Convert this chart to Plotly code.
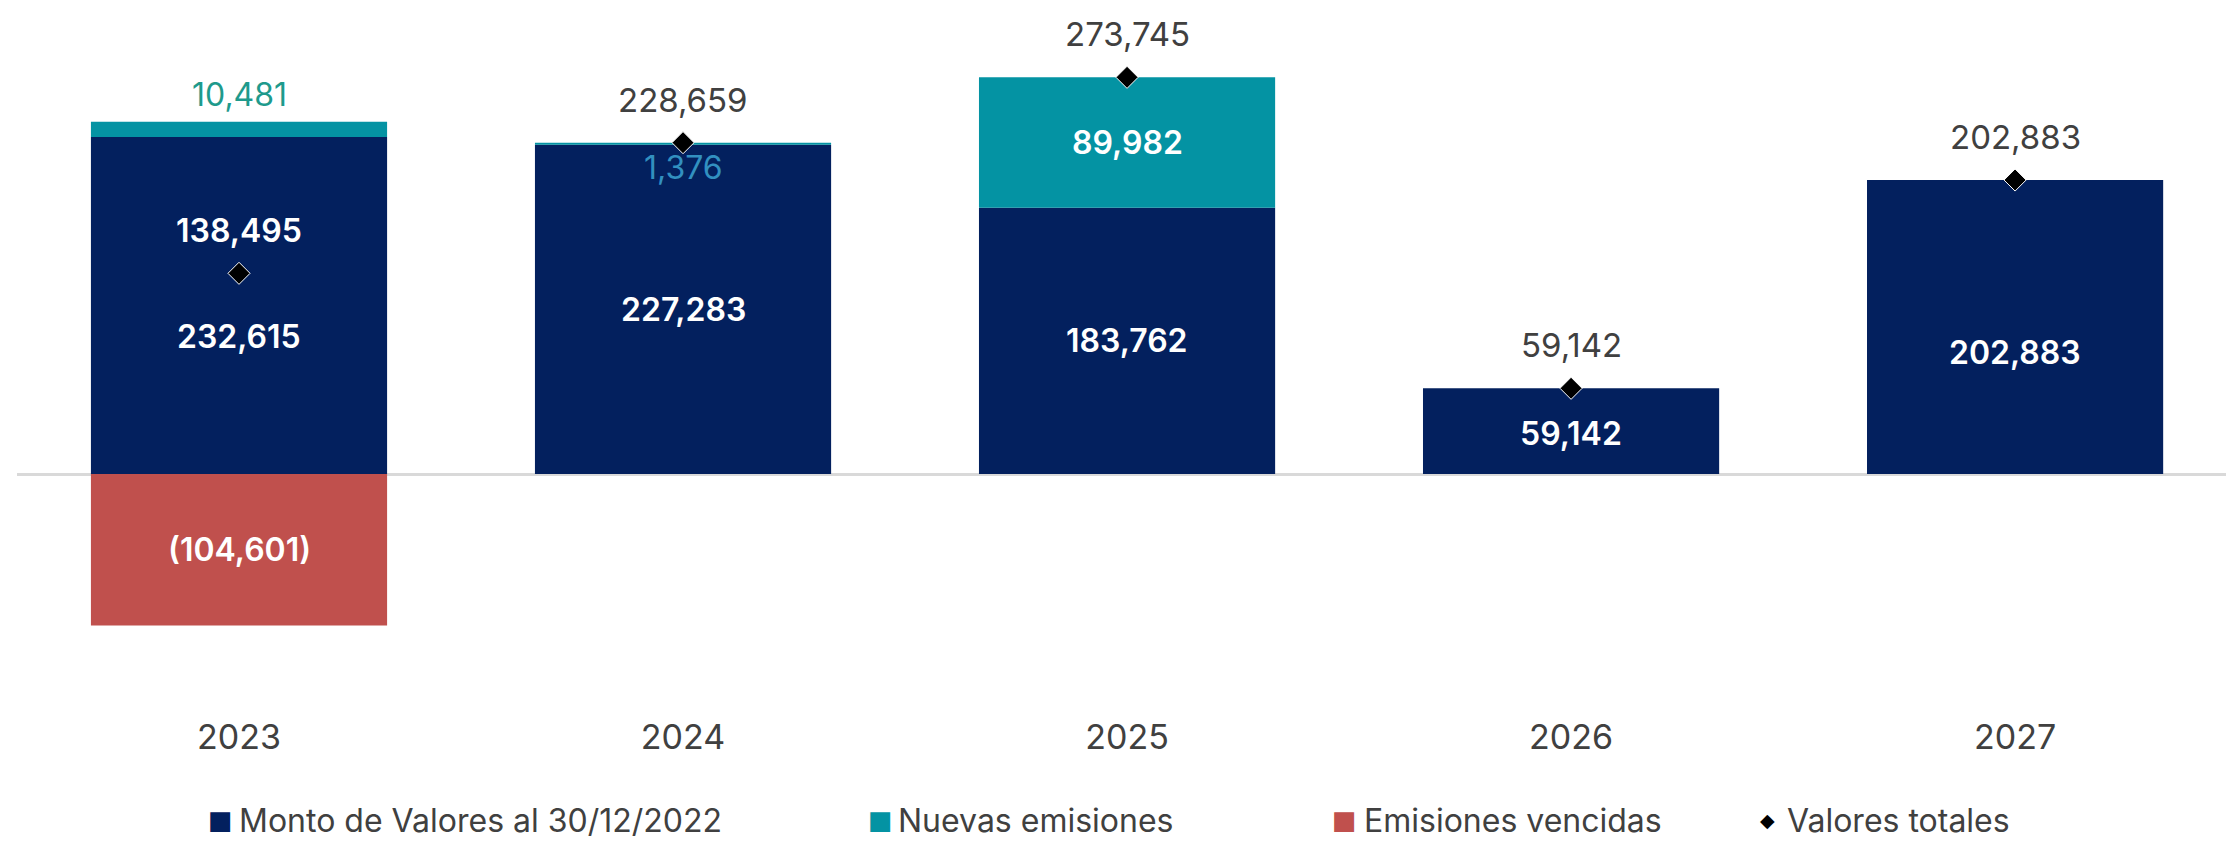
import plotly.graph_objects as go

# ---------------- data ----------------
categories = ["2023", "2024", "2025", "2026", "2027"]
monto_valores = [232615, 227283, 183762, 59142, 202883]
nuevas_emisiones = [10481, 1376, 89982, 0, 0]
emisiones_vencidas = [-104601, 0, 0, 0, 0]
valores_totales = [138495, 228659, 273745, 59142, 202883]
legend_names = ["Monto de Valores al 30/12/2022", "Nuevas emisiones",
                "Emisiones vencidas", "Valores totales"]

# ---------------- styles ----------------
NAVY = "#03205E"
TEAL = "#0493A3"
RED = "#C0504D"
GRAY = "#404040"
FONT = "Inter, Lato, Open Sans, sans-serif"
LBL = 32      # white in-bar labels
TOT = 33      # total labels

def fmt(v):
    s = f"{abs(v):,}"
    return f"({s})" if v < 0 else s

fig = go.Figure()
fig.add_trace(go.Bar(x=categories, y=monto_valores, name=legend_names[0],
                     marker=dict(color=NAVY, line=dict(width=0))))
fig.add_trace(go.Bar(x=categories, y=nuevas_emisiones, name=legend_names[1],
                     marker=dict(color=TEAL, line=dict(width=0))))
fig.add_trace(go.Bar(x=categories, y=emisiones_vencidas, name=legend_names[2],
                     marker=dict(color=RED, line=dict(width=0))))
fig.add_trace(go.Scatter(x=categories, y=valores_totales, name=legend_names[3],
                         mode="markers",
                         marker=dict(symbol="diamond", size=17, color="black",
                                     line=dict(color="white", width=1))))

ann = []
# navy segment labels (white)
monto_shift = [-31, 0, 0, -2, -25]
for i, (v, dy) in enumerate(zip(monto_valores, monto_shift)):
    ann.append(dict(x=i, y=v / 2, text=fmt(v), showarrow=False, yshift=dy,
                    font=dict(family=FONT, size=LBL, color="white", weight=600)))
# new issues labels
for i, (m, v) in enumerate(zip(monto_valores, nuevas_emisiones)):
    if v == 0:
        continue
    if i == 0:
        ann.append(dict(x=i, y=m + v, text=fmt(v), showarrow=False, yshift=27,
                        font=dict(family=FONT, size=TOT - 1, color="#1E9A8C")))
    elif i == 1:
        ann.append(dict(x=i, y=m + v, text=fmt(v), showarrow=False, yshift=-25,
                        font=dict(family=FONT, size=TOT - 1, color="#3290C0")))
    else:
        ann.append(dict(x=i, y=m + v / 2, text=fmt(v), showarrow=False,
                        font=dict(family=FONT, size=LBL, color="white", weight=600)))
# matured issues labels
for i, v in enumerate(emisiones_vencidas):
    if v != 0:
        ann.append(dict(x=i, y=v / 2, text=fmt(v), showarrow=False,
                        font=dict(family=FONT, size=LBL, color="white", weight=600)))
# totals labels
for i, v in enumerate(valores_totales):
    if i == 0:
        f = dict(family=FONT, size=LBL, color="white", weight=600)
    else:
        f = dict(family=FONT, size=TOT, color=GRAY)
    ann.append(dict(x=i, y=v, text=fmt(v), showarrow=False, yshift=43, font=f))

# custom legend row
PLOT_L, PLOT_W, PLOT_H = 17, 2209, 700
leg_y = (PLOT_H - 820) / PLOT_H
leg_items = [(220, 238, NAVY, "■", 26), (880, 897, TEAL, "■", 26),
             (1344, 1363, RED, "■", 26), (1767, 1786, "black", "◆", 19)]
for name, (gx, tx, col, glyph, gs) in zip(legend_names, leg_items):
    ann.append(dict(xref="paper", yref="paper", x=(gx - PLOT_L) / PLOT_W, y=leg_y,
                    text=glyph, showarrow=False, xanchor="center", yanchor="middle",
                    font=dict(family="DejaVu Sans", size=gs, color=col)))
    ann.append(dict(xref="paper", yref="paper", x=(tx - PLOT_L) / PLOT_W, y=leg_y,
                    text=name, showarrow=False, xanchor="left", yanchor="middle",
                    borderpad=0,
                    font=dict(family=FONT, size=32, color=GRAY)))

fig.update_layout(
    width=2226, height=842,
    margin=dict(l=PLOT_L, r=0, t=0, b=842 - PLOT_H, pad=0),
    paper_bgcolor="white", plot_bgcolor="white",
    barmode="relative", bargap=0.333,
    showlegend=False,
    annotations=ann,
    xaxis=dict(type="category", range=[-0.5, 4.475], showgrid=False,
               showline=False, zeroline=False,
               ticks="outside", ticklen=7, tickcolor="rgba(0,0,0,0)",
               tickfont=dict(family=FONT, size=34, color=GRAY)),
    yaxis=dict(range=[-155970, 327122], showgrid=False, showticklabels=False,
               zeroline=True, zerolinecolor="#D9D9D9", zerolinewidth=3,
               showline=False),
)

fig.write_html("out.html", config={"displayModeBar": False},
               post_script="document.body.style.margin='0';")
